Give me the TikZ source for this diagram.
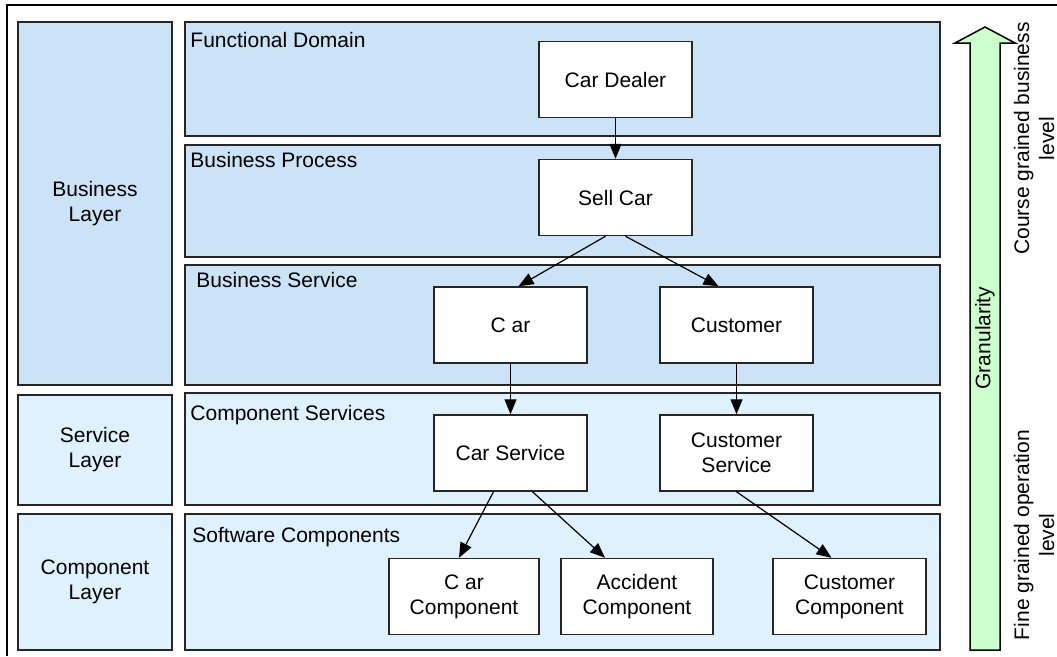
\documentclass[tikz,border=0pt]{standalone}
\usepackage{fontspec}
\setmainfont{Liberation Sans}
\usetikzlibrary{arrows.meta, calc}

\definecolor{bizblue}{RGB}{204,226,247}
\definecolor{svcblue}{RGB}{222,241,252}
\definecolor{granugreen}{RGB}{204,255,204}

\begin{document}
\begin{tikzpicture}[x=1pt, y=-1pt, every node/.style={font=\fontsize{21}{25}\selectfont}]
    \tikzstyle{layer} = [rectangle, minimum width=154pt, text centered, draw=black!85, line width=1.5pt, align=center, inner sep=0pt]
    \tikzstyle{section} = [rectangle, minimum width=755pt, draw=black!85, line width=1.5pt, inner sep=0pt]
    \tikzstyle{title} = [anchor=base west, inner sep=0pt]
    \tikzstyle{service} = [rectangle, minimum width=153pt, minimum height=76pt, text centered, draw=black!85, fill=white, line width=1.5pt, align=center, inner sep=0pt]
    \tikzstyle{arrow} = [line width=1.2pt, -{Triangle[length=15pt,width=12pt]}]
    \useasboundingbox (0,0) rectangle (1057,656);
    % Frame
    \draw [line width=1.2pt] (7,656) -- (7,5) -- (1057,5);
    % Layers
    \node (blayer) [layer, fill=bizblue, minimum height=363pt] at (95,203.5) {Business\\ Layer};
    \node (slayer) [layer, fill=svcblue, minimum height=110pt] at (95,450) {Service\\ Layer};
    \node (clayer) [layer, fill=svcblue, minimum height=136pt] at (95,582) {Component\\ Layer};
    % Sections
    \node (fdomain) [section, fill=bizblue, minimum height=114pt] at (562.5,79) {};
    \node (bprocess) [section, fill=bizblue, minimum height=112pt] at (562.5,201) {};
    \node (bservice) [section, fill=bizblue, minimum height=120pt] at (562.5,325) {};
    \node (cservices) [section, fill=svcblue, minimum height=112pt] at (562.5,449) {};
    \node (scomponents) [section, fill=svcblue, minimum height=136pt] at (562.5,582) {};
    \node (fdomaintitle) [title] at ($(fdomain.north west)+(6,26)$) {Functional Domain};
    \node (bprocesstitle) [title] at ($(bprocess.north west)+(6,23)$) {Business Process};
    \node (bservicetitle) [title] at ($(bservice.north west)+(12,23)$) {Business Service};
    \node (cservicestitle) [title] at ($(cservices.north west)+(6,28)$) {Component Services};
    \node (scomponentstitle) [title] at ($(scomponents.north west)+(8,29)$) {Software Components};
    % Nodes
    \node (cardealer) [service] at (615.5,79.5) {Car Dealer};
    \node (sellcar) [service] at (615.5,197.5) {Sell Car};
    \node (car) [service] at (510.5,325) {C ar};
    \node (customer) [service] at (736.5,325) {Customer};
    \node (carservice) [service] at (510.5,453) {Car Service};
    \node (customerservice) [service] at (736.5,453) {Customer\\ Service};
    \node (carcomponent) [service, minimum width=150pt] at (464,596.5) {C ar\\ Component};
    \node (accidentcomponent) [service, minimum width=152pt] at (637,596.5) {Accident\\ Component};
    \node (customercomponent) [service] at (849.5,596.5) {Customer\\ Component};
    % Arrows
    \draw [arrow] (cardealer) -- (sellcar);
    \draw [arrow] ($(sellcar.south)+(-10,0)$) -- ($(car.north)+(8,0)$);
    \draw [arrow] ($(sellcar.south)+(10,0)$) -- ($(customer.north)+(-18,0)$);
    \draw [arrow] (car) -- (carservice);
    \draw [arrow] (customer) -- (customerservice);
    \draw [arrow] ($(carservice.south)+(-17,0)$) -- ($(carcomponent.north)+(-5,0)$);
    \draw [arrow] ($(carservice.south)+(22,0)$) -- ($(accidentcomponent.north)+(-32,0)$);
    \draw [arrow] (customerservice.south) -- ($(customercomponent.north)+(-18,0)$);
    % Granularity
    \draw [fill=granugreen, line width=1.5pt] (970,650) -- (970,43) -- (955,43) -- (985,27) -- (1015,43) -- (1000,43) -- (1000,650) -- cycle;
    \node (granularity) [rotate=90, inner sep=0pt] at (985,338) {Granularity};
    \node (coarse) [rotate=90, align=center, inner sep=0pt] at (1034,138.5) {Course grained business\\ level};
    \node (fine) [rotate=90, align=center, inner sep=0pt] at (1034,535) {Fine grained operation\\ level};
\end{tikzpicture}
\end{document}
